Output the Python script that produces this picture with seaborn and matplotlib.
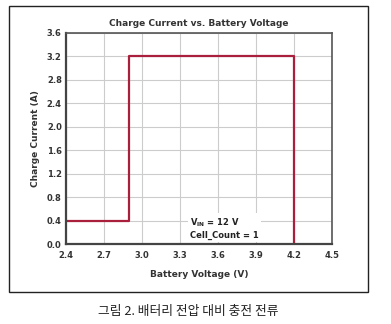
import matplotlib
matplotlib.use("Agg")
import matplotlib.pyplot as plt
import seaborn as sns
import pandas as pd
from matplotlib.patches import Rectangle

sns.set_theme(style="whitegrid")
plt.rcParams['font.family'] = ['DejaVu Sans']

voltage = [2.4, 2.9, 2.9, 4.2, 4.2]
current = [0.4, 0.4, 3.2, 3.2, 0.0]
x_ticks = [2.4, 2.7, 3.0, 3.3, 3.6, 3.9, 4.2, 4.5]
y_ticks = [0.0, 0.4, 0.8, 1.2, 1.6, 2.0, 2.4, 2.8, 3.2, 3.6]
title = "Charge Current vs. Battery Voltage"
xlabel = "Battery Voltage (V)"
ylabel = "Charge Current (A)"
caption = "그림 2. 배터리 전압 대비 충전 전류"

df = pd.DataFrame({"v": voltage, "i": current})

fig = plt.figure(figsize=(3.91, 3.24), dpi=100)
W, H = 391, 324
ax = fig.add_axes([66 / W, 1 - 244 / H, (332 - 66) / W, (244 - 33) / H])

sns.lineplot(data=df, x="v", y="i", sort=False, estimator=None, ax=ax,
             color="#aa1f3b", linewidth=1.6)

ax.set_xlim(2.4, 4.5)
ax.set_ylim(0, 3.6)
ax.set_xticks(x_ticks)
ax.set_yticks(y_ticks)
ax.set_xticklabels([f"{t:.1f}" for t in x_ticks], fontsize=6, fontweight="bold", color="#333333")
ax.set_yticklabels([f"{t:.1f}" for t in y_ticks], fontsize=6, fontweight="bold", color="#333333")
ax.tick_params(axis="x", length=0, pad=5)
ax.tick_params(axis="y", length=0, pad=3)
ax.grid(True, color="#cccccc", linewidth=0.8)
for s in ax.spines.values():
    s.set_color("#555555")
    s.set_linewidth(1.2)
ax.spines["bottom"].set_color("#444444")
ax.spines["bottom"].set_linewidth(1.6)
ax.spines["left"].set_color("#444444")
ax.spines["left"].set_linewidth(1.6)

ax.set_xlabel(xlabel, fontsize=6.5, fontweight="bold", color="#333333", labelpad=7)
ax.set_ylabel(ylabel, fontsize=6.5, fontweight="bold", color="#333333", labelpad=5)
ax.set_title(title, fontsize=6.5, fontweight="bold", color="#333333", pad=5)

ax.text(3.38, 0.27, "V$_{\\mathregular{IN}}$ = 12 V\nCell_Count = 1",
        fontsize=6, fontweight="bold", color="#222222", ha="left", va="center",
        linespacing=1.3,
        bbox=dict(facecolor="white", edgecolor="none", pad=1.5))

fig.patches.append(Rectangle((9 / W, 1 - 292 / H), (368 - 9) / W, (292 - 6) / H,
                             transform=fig.transFigure, fill=False,
                             edgecolor="#222222", linewidth=1.0))

fig.text(0.5 - 7 / W, 1 - 311 / H, caption, ha="center", va="center", fontsize=9.2,
         family=["Noto Sans CJK KR", "DejaVu Sans"], color="#222222")

fig.savefig("out.png", dpi=100, facecolor="white")
